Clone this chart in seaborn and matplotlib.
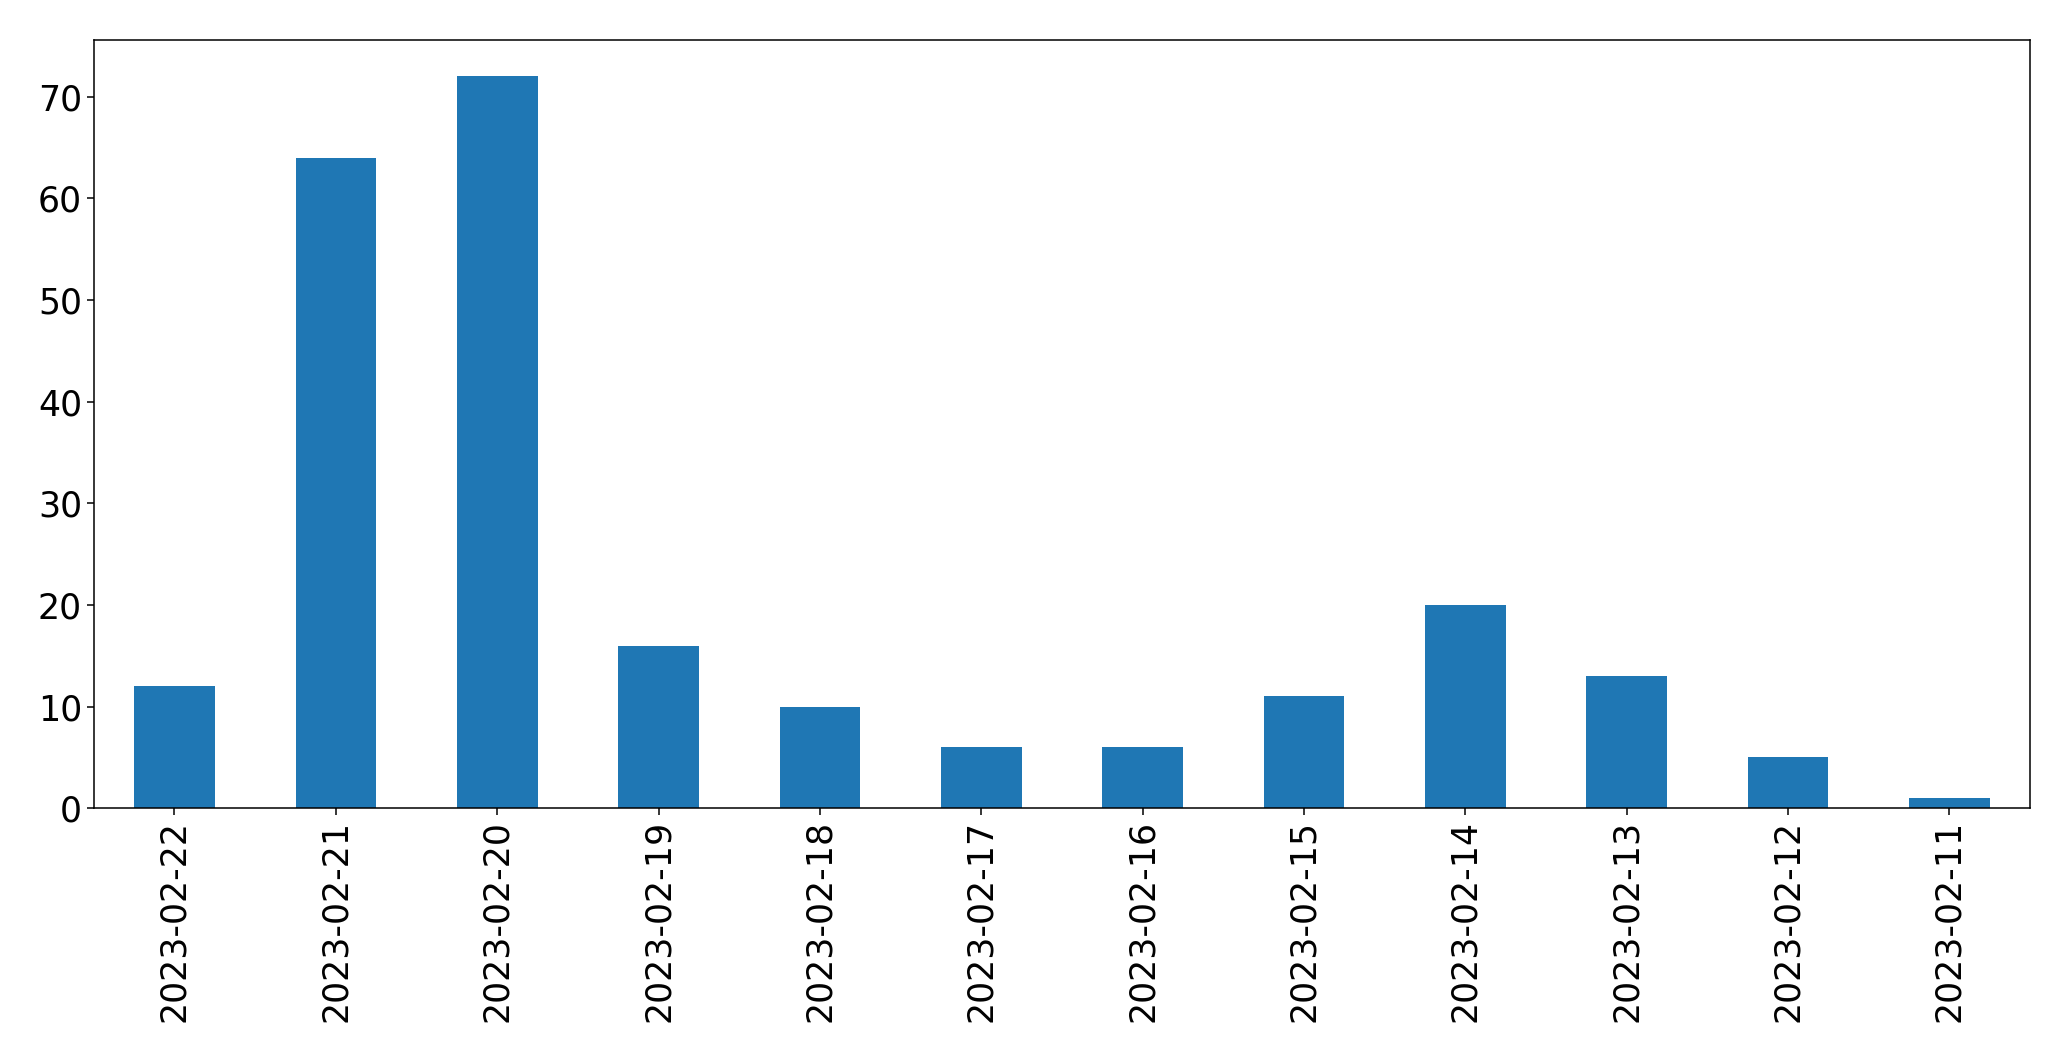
#!/usr/bin/env python3
"""Daily counts bar chart, recreated with seaborn."""

import matplotlib
matplotlib.use('Agg')
import matplotlib.pyplot as plt
import seaborn as sns
import pandas as pd

dates = ['2023-02-22', '2023-02-21', '2023-02-20', '2023-02-19', '2023-02-18', '2023-02-17',
         '2023-02-16', '2023-02-15', '2023-02-14', '2023-02-13', '2023-02-12', '2023-02-11']
counts = [12, 64, 72, 16, 10, 6, 6, 11, 20, 13, 5, 1]

df = pd.DataFrame({'date': dates, 'count': counts})

plt.rcParams['font.family'] = ['DejaVu Sans']

fig = plt.figure(figsize=(20.71, 10.61), dpi=100)
ax = fig.add_axes([0.0453, 0.2382, 0.9349, 0.7245])

sns.barplot(data=df, x='date', y='count', order=dates, color='#1f77b4',
            saturation=1, width=0.5, linewidth=0, ax=ax)

ax.set_xlim(-0.5, len(dates) - 0.5)
ax.set_ylim(0, max(counts) * 1.05)
ax.set_yticks(range(0, 80, 10))
ax.set_xlabel('')
ax.set_ylabel('')
ax.tick_params(axis='x', labelrotation=90, labelsize=25, length=5, width=1.1)
ax.tick_params(axis='y', labelsize=25, length=5, width=1.1)
for s in ax.spines.values():
    s.set_visible(True)
    s.set_linewidth(1.1)
    s.set_color('black')

plt.savefig('out.png', dpi=100)
plt.close()
